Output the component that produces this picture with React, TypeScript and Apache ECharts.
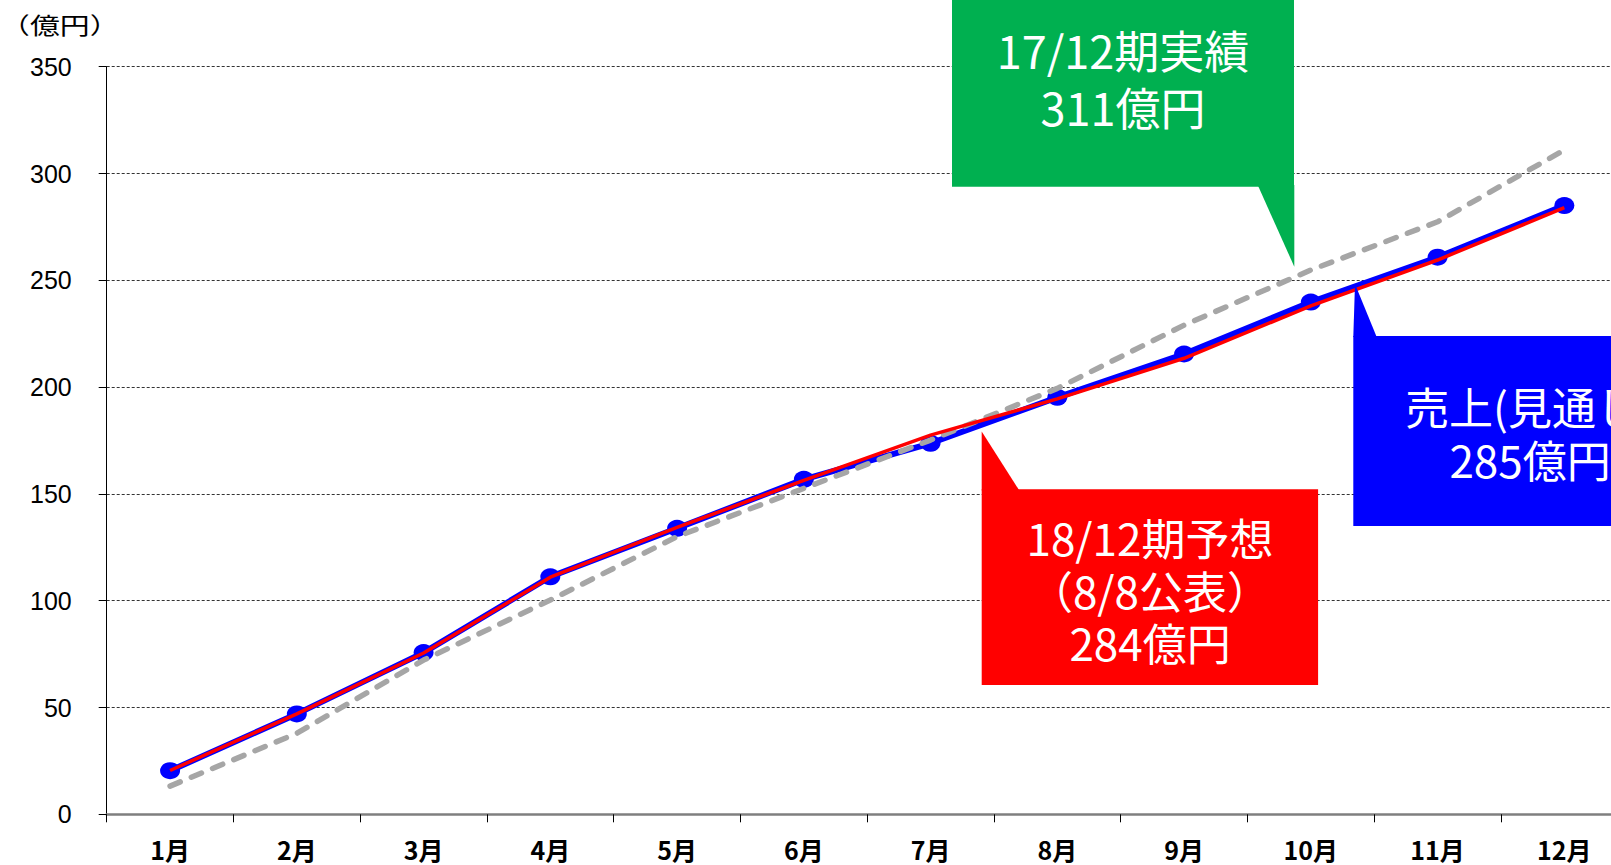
import React, { useEffect, useRef } from "react";
import * as echarts from "echarts";

// Month categories on the x axis
const months = ["1月", "2月", "3月", "4月", "5月", "6月", "7月", "8月", "9月", "10月", "11月", "12月"];

// Cumulative sales (億円)
const salesOutlook = [20.4, 47, 75.7, 111.2, 133.9, 156.8, 173.7, 195.2, 215.5, 239.8, 260.8, 285];
const forecast1812 = [20.5, 47, 75.5, 111, 134.3, 156.3, 177.5, 194.5, 213.5, 238, 259.5, 284];
const actual1712 = [13.2, 37.9, 72.2, 100.3, 130, 152.6, 175.2, 199.4, 229, 254.8, 277.4, 311];

// Value axis range
const yMin = 0;
const yMax = 350;
const yStep = 50;

const unitLabel = "（億円）";
const actualLines = ["17/12期実績", `${actual1712[actual1712.length - 1]}億円`];
const forecastLines = ["18/12期予想", "（8/8公表）", `${forecast1812[forecast1812.length - 1]}億円`];
const outlookLines = ["売上(見通し)", `${salesOutlook[salesOutlook.length - 1]}億円`];

const GREEN = "#00B050";
const RED = "#FF0000";
const BLUE = "#0000FF";
const GRAY = "#A6A6A6";
const CJK = '"Noto Sans CJK JP", "Noto Sans CJK SC", sans-serif';

// Multi-line white caption centred on (x, y)
function caption(lines: string[], x: number, y: number, lineHeight: number, fontSize = 44) {
  return {
    type: "text",
    x,
    y,
    z: 110,
    style: {
      text: lines.join("\n"),
      fill: "#FFFFFF",
      fontSize,
      lineHeight,
      fontFamily: CJK,
      textAlign: "center",
      align: "center",
      textVerticalAlign: "middle",
      verticalAlign: "middle",
    },
  };
}

export default function App() {
  const ref = useRef<HTMLDivElement>(null);

  useEffect(() => {
    if (!ref.current) return;
    const chart = echarts.init(ref.current, undefined, { renderer: "svg" });

    chart.setOption({
      animation: false,
      backgroundColor: "#FFFFFF",
      grid: {
        left: 106.7,
        top: 66.7,
        width: 1521,
        height: 747.6,
        containLabel: false,
        outerBoundsMode: "none",
      },
      xAxis: {
        type: "category",
        data: months,
        boundaryGap: true,
        axisLine: { show: true, lineStyle: { color: "#7F7F7F", width: 2.5 } },
        axisTick: { show: true, alignWithLabel: false, interval: 0, length: 8, lineStyle: { color: "#000000", width: 1 } },
        axisLabel: {
          interval: 0,
          margin: 22,
          fontSize: 25,
          lineHeight: 25,
          fontWeight: "bold",
          fontFamily: CJK,
          color: "#000000",
        },
        splitLine: { show: false },
      },
      yAxis: {
        type: "value",
        min: yMin,
        max: yMax,
        interval: yStep,
        axisLine: { show: true, lineStyle: { color: "#000000", width: 1 } },
        axisTick: { show: true, inside: false, length: 8, lineStyle: { color: "#000000", width: 1 } },
        axisLabel: { margin: 35, fontSize: 25, fontFamily: '"Liberation Sans", Arial, sans-serif', color: "#000000" },
        splitLine: { show: true, lineStyle: { color: "#333333", width: 1, type: [3, 2] } },
      },
      series: [
        {
          name: "売上(見通し)",
          type: "line",
          data: salesOutlook,
          symbol: "circle",
          symbolSize: [20, 17],
          itemStyle: { color: BLUE },
          lineStyle: { color: BLUE, width: 6 },
          z: 2,
        },
        {
          name: "17/12期実績",
          type: "line",
          data: actual1712,
          symbol: "none",
          lineStyle: { color: GRAY, width: 5.5, type: [11, 12], cap: "round" },
          z: 3,
        },
        {
          name: "18/12期予想",
          type: "line",
          data: forecast1812,
          symbol: "none",
          lineStyle: { color: RED, width: 3.5 },
          z: 4,
        },
      ],
      graphic: [
        {
          type: "text",
          x: 0,
          y: 24,
          scaleX: 1.3,
          z: 110,
          style: {
            text: unitLabel,
            fill: "#000000",
            fontSize: 23,
            fontFamily: CJK,
            textAlign: "left",
            align: "left",
            textVerticalAlign: "middle",
            verticalAlign: "middle",
          },
        },
        // 17/12 actual callout
        { type: "rect", z: 100, shape: { x: 952, y: -10, width: 342, height: 196.7 }, style: { fill: GREEN } },
        { type: "polygon", z: 100, shape: { points: [[1257.7, 185], [1294.3, 185], [1294.3, 266.7]] }, style: { fill: GREEN } },
        caption(actualLines, 1123, 77.5, 57, 45),
        // 18/12 forecast callout
        { type: "rect", z: 100, shape: { x: 981.7, y: 489.3, width: 336.4, height: 195.7 }, style: { fill: RED } },
        { type: "polygon", z: 100, shape: { points: [[981.7, 490.5], [1019.3, 490.5], [981.7, 431.5]] }, style: { fill: RED } },
        caption(forecastLines, 1150, 589.5, 52.5),
        // Sales outlook callout
        { type: "rect", z: 100, shape: { x: 1353.3, y: 336, width: 400, height: 190 }, style: { fill: BLUE } },
        { type: "polygon", z: 100, shape: { points: [[1353.3, 337], [1376.7, 337], [1355, 284]] }, style: { fill: BLUE } },
        caption(outlookLines, 1530, 432.4, 53.2),
      ],
    });

    return () => chart.dispose();
  }, []);

  return (
    <div style={{ position: "fixed", left: 0, top: 0, width: 1611, height: 865, overflow: "hidden", background: "#FFFFFF" }}>
      <div ref={ref} style={{ width: 1640, height: 865 }} />
    </div>
  );
}
